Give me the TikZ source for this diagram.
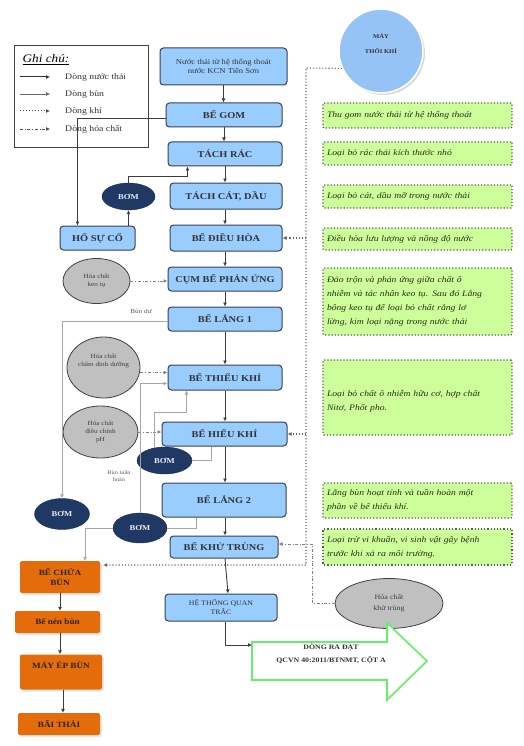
\documentclass[tikz,border=0pt]{standalone}
\usepackage{fontspec}
\setmainfont{Liberation Serif}[FakeStretch=1.15]
\usetikzlibrary{shapes.geometric,arrows.meta,calc,shadows}
\definecolor{boxblue}{RGB}{153,204,255}
\definecolor{boxedge}{RGB}{55,65,80}
\definecolor{pumpnavy}{RGB}{31,56,100}
\definecolor{chemgray}{RGB}{192,192,192}
\definecolor{sludgeorange}{RGB}{228,108,10}
\definecolor{notegreen}{RGB}{204,255,153}
\definecolor{noteedge}{RGB}{85,95,85}
\definecolor{notetext}{RGB}{35,45,20}
\definecolor{outgreen}{RGB}{100,240,100}
\definecolor{flowgray}{RGB}{60,60,60}
\definecolor{circblue}{RGB}{150,195,245}
\begin{document}
\begin{tikzpicture}[x=1pt,y=-1pt,
  bluebox/.style={draw=boxedge, fill=boxblue, rounded corners=3.5pt, line width=1pt,
    font=\fontsize{9}{11}\selectfont\bfseries, text=black!80, align=center, inner sep=1pt},
  pump/.style={ellipse, fill=pumpnavy, draw=pumpnavy!80!black, text=white!92!blue,
    font=\fontsize{7.5}{8}\selectfont\bfseries, inner sep=0pt},
  chem/.style={ellipse, fill=chemgray, draw=black!75, line width=0.8pt,
    font=\fontsize{6.3}{8}\selectfont, text=black!75, align=center, inner sep=0pt},
  sludgebox/.style={fill=sludgeorange, rounded corners=2pt,
    drop shadow={fill=black!18, shadow xshift=2pt, shadow yshift=-2pt},
    font=\fontsize{8}{10}\selectfont\bfseries, text=black!85, align=center, inner sep=1pt},
  note/.style={draw=noteedge, dotted, line width=1.2pt, fill=notegreen, rounded corners=1pt,
    font=\fontsize{8.4}{14}\selectfont\itshape, text=notetext, align=left,
    text width=181pt, minimum width=189pt, inner sep=2pt},
  flow/.style={draw=flowgray, line width=0.9pt, -{Latex[length=4pt,width=4pt]}},
  sludge/.style={draw=black!35, line width=0.7pt, -{Latex[length=4pt,width=4pt]}},
  air/.style={draw=black!60, dotted, line width=1.1pt},
  airarrow/.style={air, -{Latex[length=4pt,width=4pt]}},
  chemline/.style={draw=black!50, dash dot, line width=0.8pt, -{Latex[length=4pt,width=4pt]}},
  legtext/.style={anchor=west, font=\fontsize{8.5}{9}\selectfont, text=black!80, inner sep=0pt},
  tiny/.style={font=\fontsize{5.5}{6.5}\selectfont, align=center, text=black!65, inner sep=0pt}
]
\useasboundingbox (0,0) rectangle (523,746);

% ---------------- legend ----------------
\node[draw=black!75, line width=1pt, minimum width=134pt, minimum height=102pt, inner sep=0pt] (legend) at (81,97) {};
\node[font=\fontsize{11.5}{12}\selectfont\itshape, inner sep=0pt] (legtitle) at (46,60) {\underline{Ghi chú:}};
\coordinate (l1a) at (20,77); \coordinate (l1b) at (50,77);
\coordinate (l2a) at (20,94); \coordinate (l2b) at (50,94);
\coordinate (l3a) at (20,111); \coordinate (l3b) at (50,111);
\coordinate (l4a) at (20,129); \coordinate (l4b) at (50,129);
\draw[draw=black!80, line width=1pt, -{Latex[length=4pt,width=4pt]}] (l1a) -- (l1b);
\draw[draw=black!60, line width=0.5pt, -{Latex[length=4pt,width=4pt]}] (l2a) -- (l2b);
\draw[draw=black!70, dotted, line width=1pt, -{Latex[length=4pt,width=4pt]}] (l3a) -- (l3b);
\draw[draw=black!70, dash dot, line width=0.7pt, -{Latex[length=4pt,width=4pt]}] (l4a) -- (l4b);
\node[legtext] (lt1) at (65,77) {Dòng nước thải};
\node[legtext] (lt2) at (65,94) {Dòng bùn};
\node[legtext] (lt3) at (65,111) {Dòng khí};
\node[legtext] (lt4) at (65,129) {Dòng hóa chất};

% ---------------- main column ----------------
\node[bluebox, minimum width=127pt, minimum height=37pt, font=\fontsize{7.5}{9.5}\selectfont] (src) at (223.5,66.5) {Nước thải từ hệ thống thoát\\nước KCN Tiên Sơn};
\node[bluebox, minimum width=116pt, minimum height=24pt] (gom) at (224,115) {BỂ GOM};
\node[bluebox, minimum width=114pt, minimum height=24pt] (rac) at (225,154) {TÁCH RÁC};
\node[bluebox, minimum width=112pt, minimum height=26pt] (cat) at (226,196) {TÁCH CÁT, DẦU};
\node[bluebox, minimum width=112pt, minimum height=26pt] (dieuhoa) at (226,238) {BỂ ĐIỀU HÒA};
\node[bluebox, minimum width=114pt, minimum height=24pt] (phanung) at (225,279) {CỤM BỂ PHẢN ỨNG};
\node[bluebox, minimum width=114pt, minimum height=24pt] (lang1) at (225,319) {BỂ LẮNG 1};
\node[bluebox, minimum width=114pt, minimum height=25pt] (thieukhi) at (225,377.5) {BỂ THIẾU KHÍ};
\node[bluebox, minimum width=125pt, minimum height=24pt] (hieukhi) at (224.5,434) {BỂ HIẾU KHÍ};
\node[bluebox, minimum width=124pt, minimum height=34pt] (lang2) at (224,500) {BỂ LẮNG 2};
\node[bluebox, minimum width=108pt, minimum height=22pt] (khutrung) at (224,547) {BỂ KHỬ TRÙNG};
\node[bluebox, minimum width=112pt, minimum height=27pt, font=\fontsize{6.8}{9}\selectfont] (quantrac) at (221,607.5) {HỆ THỐNG QUAN\\TRẮC};

\draw[flow] (src.south) -- (src.south |- gom.north);
\draw[flow] (gom.south) -- (gom.south |- rac.north);
\draw[flow] (rac.south) -- (rac.south |- cat.north);
\draw[flow] ($(cat.south)+(-1,0)$) -- ($(cat.south |- dieuhoa.north)+(-1,0)$);
\draw[flow] ($(dieuhoa.south)+(-1,0)$) -- ($(dieuhoa.south |- phanung.north)+(-1,0)$);
\draw[flow] (phanung.south) -- (phanung.south |- lang1.north);
\draw[flow] (lang1.south) -- (lang1.south |- thieukhi.north);
\draw[flow] (thieukhi.south) -- (thieukhi.south |- hieukhi.north);
\draw[flow] ($(hieukhi.south)+(0.5,0)$) -- ($(hieukhi.south |- lang2.north)+(0.5,0)$);
\draw[flow] ($(lang2.south)+(1,0)$) -- ($(lang2.south |- khutrung.north)+(1,0)$);
\draw[flow] ($(khutrung.south)+(1,0)$) -- ($(khutrung.south |- quantrac.north)+(4,0)$);

% ---------------- incident tank loop ----------------
\node[bluebox, minimum width=75pt, minimum height=24pt] (hosuco) at (97.5,238) {HỐ SỰ CỐ};
\node[pump, minimum width=53pt, minimum height=27pt] (bom1) at (128.5,196.5) {BƠM};
\draw[flow] ($(gom.west)+(0,3)$) -| ($(hosuco.north west)+(18,0)$);
\draw[flow] (hosuco.north -| bom1.south) -- (bom1.south);
\draw[flow] (bom1.north) -- ++(0,-6) -| ($(rac.south west)+(20,0)$);

% ---------------- chemicals ----------------
\node[chem, minimum width=67pt, minimum height=45pt] (keotu) at (96.5,281) {Hóa chất\\keo tụ};
\draw[chemline] (keotu.east) -- (keotu.east -| phanung.west);

\node[chem, minimum width=73pt, minimum height=61pt] (dinhduong) at (103.5,367.5) {Hóa chất\\châm dinh dưỡng\\[6pt]\mbox{}};
\draw[chemline] ($(dinhduong.east)+(0,5)$) -- ($(dinhduong.east -| thieukhi.west)+(0,5)$);

\node[chem, minimum width=75pt, minimum height=52pt] (ph) at (100.5,432) {Hóa chất\\điều chỉnh\\pH};
\draw[chemline] (ph.east) -- (ph.east -| hieukhi.west);

\node[chem, minimum width=108pt, minimum height=50pt, font=\fontsize{7}{11}\selectfont] (khuchem) at (389,603.5) {Hóa chất\\khử trùng};
\draw[chemline] (khuchem.west) -- ++(-22,0) |- ($(khutrung.east)+(0,-3)$);

% ---------------- sludge lines ----------------
\node[tiny, font=\fontsize{6.3}{7}\selectfont] (bunduLbl) at (141,311) {Bùn dư};
\node[pump, minimum width=55pt, minimum height=31pt] (bom3) at (62,514) {BƠM};
\draw[sludge] ($(lang1.west)+(0,2)$) -| (bom3.north);

\node[pump, minimum width=55pt, minimum height=27pt] (bom4) at (164.5,460.5) {BƠM};
\draw[sludge, -] (bom4.east) -| ($(hieukhi.south west)+(50,0)$);
\draw[sludge] (bom4.128) -- ++(0,-35) -| ($(thieukhi.south west)+(19,0)$);

\node[tiny] (tuanhoanLbl) at (119,476) {Bùn tuần\\hoàn};
\node[pump, minimum width=54pt, minimum height=30pt] (bom5) at (140,528) {BƠM};
\draw[sludge, -] (bom5.east) -| ($(lang2.south west)+(35,0)$);
\draw[sludge] (bom5.north) |- ($(thieukhi.west)+(0,6)$);
\draw[sludge] (bom5.west) -| ($(60,561)+(25,0)$);

% ---------------- sludge treatment ----------------
\node[sludgebox, minimum width=80pt, minimum height=32pt] (bechuabun) at (60,577) {BỂ CHỨA\\BÙN};
\node[sludgebox, minimum width=85pt, minimum height=22pt] (nenbun) at (57.5,622) {Bể nén bùn};
\node[sludgebox, minimum width=82pt, minimum height=35pt] (mayep) at (61,672) {MÁY ÉP BÙN\\[3pt]\mbox{}};
\node[sludgebox, minimum width=82pt, minimum height=22pt] (baithai) at (59,724) {BÃI THẢI};
\draw[flow] (bechuabun.south) -- (bechuabun.south |- nenbun.north);
\draw[flow] ($(nenbun.south)+(2.5,0)$) -- ($(nenbun.south |- mayep.north)+(2.5,0)$);
\draw[flow] ($(mayep.south)+(2,0)$) -- ($(mayep.south |- baithai.north)+(2,0)$);

% ---------------- air supply ----------------
\node[circle, fill=circblue, draw=white, line width=1.5pt, minimum size=84pt,
  drop shadow={fill=black!30, shadow xshift=2pt, shadow yshift=-2pt},
  font=\fontsize{5.8}{15}\selectfont\bfseries, text=black!80, align=center, inner sep=0pt] (maythoi) at (381,51) {MÁY\\THỔI KHÍ\\\mbox{}};
\coordinate (airtop) at (306,68);
\coordinate (airbot) at (306,565);
\draw[airarrow] (maythoi.204) -- (airtop) -- (airbot) -- ($(bechuabun.east)+(3,-12)$);
\draw[airarrow] (airtop |- dieuhoa.east) -- (dieuhoa.east);
\draw[airarrow] (airtop |- hieukhi.east) -- (hieukhi.east);

% ---------------- notes ----------------
\node[note, minimum height=25pt] (n1) at (417.5,115.5) {Thu gom nước thải từ hệ thống thoát};
\node[note, minimum height=23pt] (n2) at (417.5,153.5) {Loại bỏ rác thải kích thước nhỏ};
\node[note, minimum height=23pt] (n3) at (417.5,196.5) {Loại bỏ cát, dầu mỡ trong nước thải};
\node[note, minimum height=22pt] (n4) at (417.5,239) {Điều hòa lưu lượng và nồng độ nước};
\node[note, minimum height=67pt] (n5) at (417.5,301.5) {Đảo trộn và phản ứng giữa chất ô\\nhiễm và tác nhân keo tụ. Sau đó Lắng\\bông keo tụ để loại bỏ chất rắng lơ\\lửng, kim loại nặng trong nước thải};
\node[note, minimum height=75pt] (n6) at (417.5,397.5) {\mbox{}\\Loại bỏ chất ô nhiễm hữu cơ, hợp chất\\Nitơ, Phốt pho.};
\node[note, minimum height=35pt] (n7) at (417.5,500.5) {Lắng bùn hoạt tính và tuần hoàn một\\phần về bể thiếu khí.};
\node[note, minimum height=36pt] (n8) at (417.5,547) {Loại trừ vi khuẩn, vi sinh vật gây bệnh\\trước khi xả ra môi trường.};

% ---------------- outlet arrow ----------------
\draw[draw=outgreen, line width=1.6pt, fill=white, line join=miter]
  (252,642) -- (387,642) -- (387,623) -- (427,661) -- (387,700) -- (387,680) -- (252,680) -- cycle;
\node[font=\fontsize{6.8}{13}\selectfont\bfseries, text=black!80, align=center, inner sep=0pt] (outlet) at (331,653.5) {DÒNG RA ĐẠT\\QCVN 40:2011/BTNMT, CỘT A};
\coordinate (arrowin) at (252,645);
\draw[flow] ($(quantrac.south)+(4,0)$) |- (arrowin);

\end{tikzpicture}
\end{document}
